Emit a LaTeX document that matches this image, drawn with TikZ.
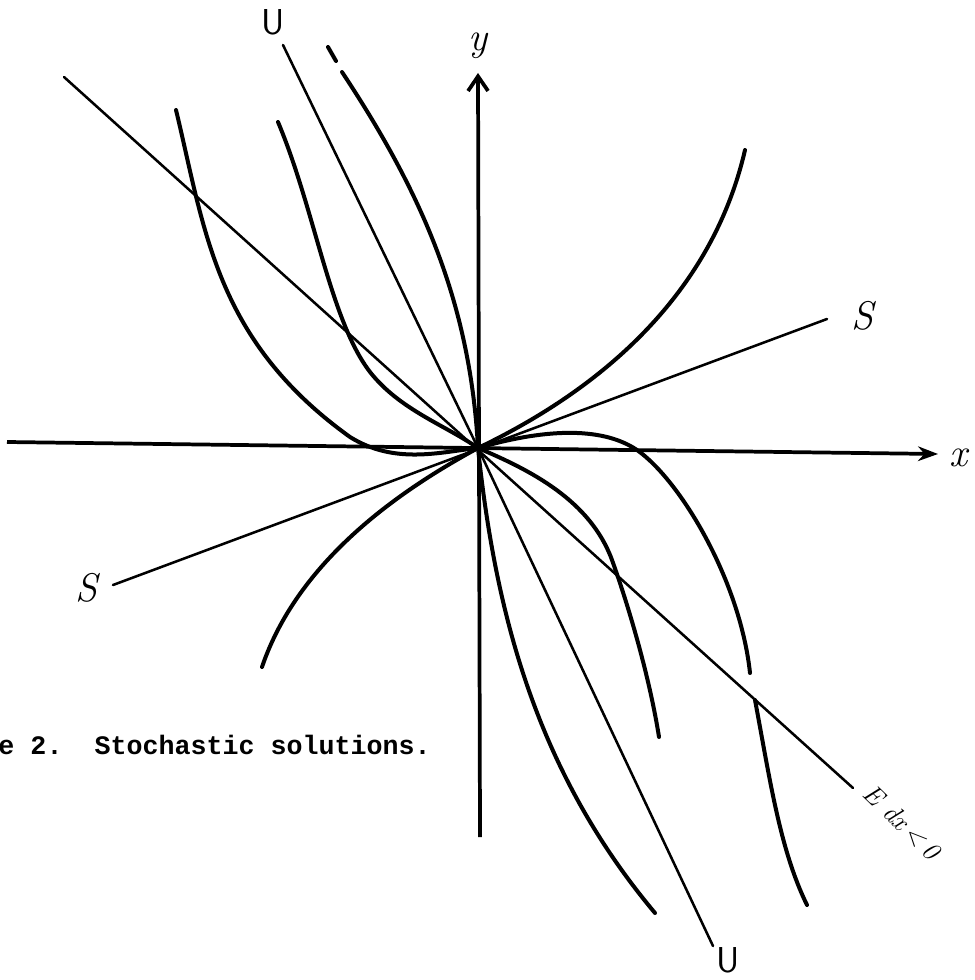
\documentclass[tikz,border=0pt]{standalone}
\usepackage{fontspec}
\newfontfamily\capfont{Liberation Mono}
\usetikzlibrary{arrows.meta}

\tikzset{every picture/.style={line width=0.75pt}}
\tikzset{
  sol/.style={line width=3pt, line cap=round},
  ray/.style={line width=1.9pt, line cap=round},
  axis/.style={line width=2.8pt},
  lab/.style={inner sep=0.75pt},
}

\begin{document}
\begin{tikzpicture}[x=0.75pt,y=0.75pt,yscale=-1,xscale=1]
\useasboundingbox (0,0) rectangle (974,980);

%Points
\coordinate (O) at (478,448);
\coordinate (xl) at (7,442);
\coordinate (xr) at (938,454);
\coordinate (yt) at (478,73);
\coordinate (yb) at (480,837);
\coordinate (Utop) at (283,45);
\coordinate (Ubot) at (713,946);
\coordinate (Sr) at (827,319);
\coordinate (Sl) at (113,585);
\coordinate (Etop) at (64,77);
\coordinate (Ebot) at (853,788);

%Axes
\draw [axis][-{Stealth[length=15pt,width=11pt]}] (xl) -- (xr) ;
\draw [axis][-{Straight Barb[length=11pt,width=15pt]}] (yb) -- (yt) ;

%Straight Lines
\draw [ray] (Utop) -- (O) -- (Ubot) ;
\draw [ray] (Sl) -- (Sr) ;
\draw [ray] (Etop) -- (Ebot) ;

%Curve Lines, upper left
\draw [sol] (176,110) .. controls (205,230) and (215,340) .. (350,437) .. controls (395,465) and (440,452) .. (O) ;
\draw [sol] (278,122) .. controls (315,210) and (330,320) .. (370,372) .. controls (400,410) and (445,425) .. (O) ;
\draw [sol] (342,72) .. controls (420,190) and (470,300) .. (O) ;
\draw [sol] (328,47) -- (336,61) ;
%Curve Lines, upper right
\draw [sol] (745,150) .. controls (715,280) and (620,380) .. (O) ;
\draw [sol] (O) .. controls (540,430) and (600,425) .. (637,450) .. controls (680,480) and (740,580) .. (750,673) ;
%Curve Lines, lower right
\draw [sol] (O) .. controls (495,610) and (535,770) .. (655,913) ;
\draw [sol] (O) .. controls (530,470) and (590,500) .. (612,560) .. controls (630,610) and (650,680) .. (659,737) ;
\draw [sol] (755,700) .. controls (770,780) and (780,850) .. (807,905) ;
%Curve Lines, lower left
\draw [sol] (O) .. controls (410,485) and (300,555) .. (262,667) ;

% Text Node
\node [lab] (ulabT) at (273,22) {\fontsize{27}{30}\selectfont\sffamily U};
\node [lab] (ulabB) at (728,960) {\fontsize{27}{30}\selectfont\sffamily U};
\node [lab] (ylab) at (478,46) {\fontsize{30}{34}\selectfont\itshape y};
\node [lab] (xlab) at (958,458) {\fontsize{30}{34}\selectfont\itshape x};
\node [lab] (slabR) at (862,316) {\fontsize{30}{34}\selectfont\itshape S};
\node [lab] (slabL) at (86,588) {\fontsize{30}{34}\selectfont\itshape S};
\node [lab, rotate=-44] (elab) at (902,822) {\fontsize{20}{24}\selectfont\itshape E dx\,<\,0};
\node [lab, anchor=west] (cap) at (-3,745) {\fontsize{20}{24}\selectfont\capfont\bfseries e 2.~~Stochastic solutions.};

\end{tikzpicture}
\end{document}
